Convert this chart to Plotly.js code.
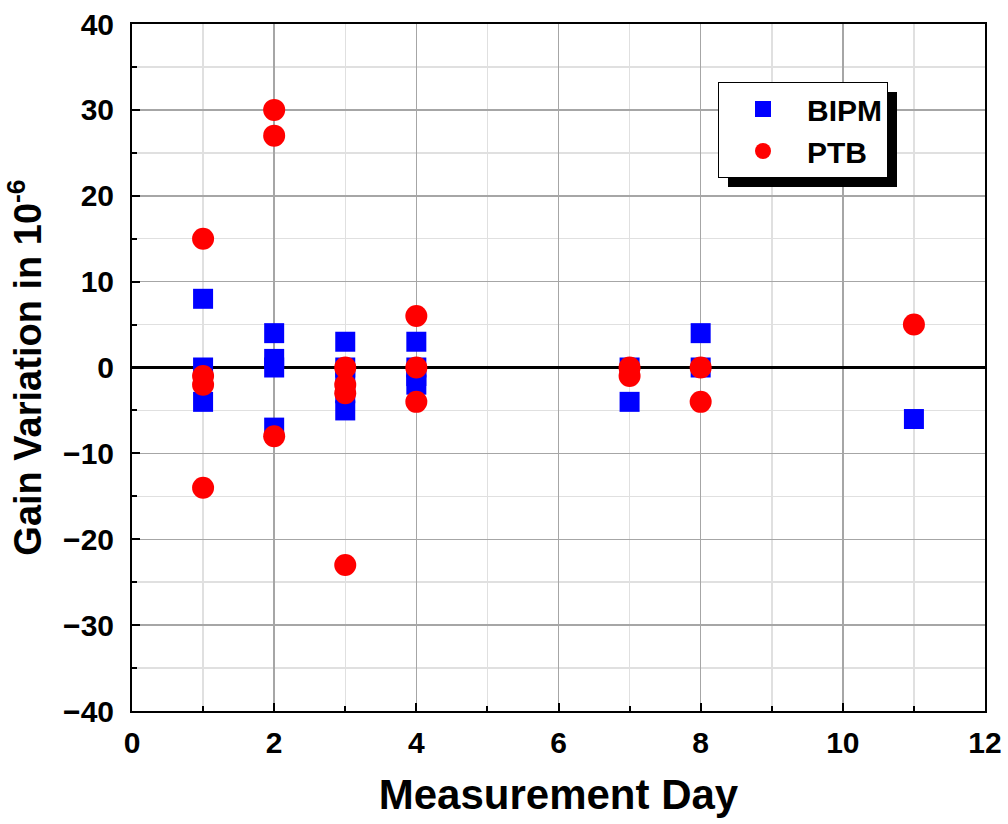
<!DOCTYPE html>
<html>
<head>
<meta charset="utf-8">
<script src="https://cdn.plot.ly/plotly-3.0.1.min.js"></script>
<style>html,body{margin:0;padding:0;background:#fff;}#chart{width:1008px;height:824px;}</style>
</head>
<body>
<div id="chart"></div>
<script>
// BIPM measurements
var bipmDay   = [1, 1, 1, 2, 2, 2, 2, 3, 3, 3, 3, 3, 4, 4, 4, 4, 7, 7, 8, 8, 11];
var bipmGain  = [8, 0, -4, 4, 1, 0, -7, 3, 0, -1, -3, -5, 3, 0, -1, -2, 0, -4, 4, 0, -6];
// PTB measurements
var ptbDay    = [1, 1, 1, 1, 2, 2, 2, 3, 3, 3, 3, 4, 4, 4, 7, 7, 8, 8, 11];
var ptbGain   = [15, -1, -2, -14, 30, 27, -8, 0, -2, -3, -23, 6, 0, -4, 0, -1, 0, -4, 5];

var xTickVals = [0, 2, 4, 6, 8, 10, 12];
var yTickVals = [-40, -30, -20, -10, 0, 10, 20, 30, 40];

var FONT = "'Liberation Sans', Arial, sans-serif";

var traces = [
  {x: bipmDay, y: bipmGain, name: 'BIPM', type: 'scatter', mode: 'markers',
   marker: {symbol: 'square', size: 20, color: '#0000ff'}},
  {x: ptbDay, y: ptbGain, name: 'PTB', type: 'scatter', mode: 'markers',
   marker: {symbol: 'circle', size: 22, color: '#ff0000'}}
];

var L = 132, R = 985, T = 24, B = 711;
var layout = {
  width: 1008, height: 824,
  margin: {l: L, r: 1008 - R, t: T, b: 824 - B},
  paper_bgcolor: '#fff', plot_bgcolor: '#fff',
  font: {family: FONT, color: '#000'},
  showlegend: true,
  legend: {
    x: (718 - L) / (R - L), y: (B - 82) / (B - T), xanchor: 'left', yanchor: 'top',
    bgcolor: '#fff', bordercolor: '#000', borderwidth: 1,
    font: {family: FONT, size: 30, color: '#000', weight: 'bold'},
    itemsizing: 'trace', itemwidth: 78
  },
  xaxis: {
    range: [0, 12], tickvals: xTickVals, ticktext: xTickVals.map(String),
    showline: true, linecolor: '#000', linewidth: 2, mirror: true,
    ticks: 'inside', ticklen: 8, tickwidth: 2, tickcolor: '#000',
    tickfont: {family: FONT, size: 30, weight: 'bold'},
    ticklabelstandoff: 4,
    showgrid: true, gridcolor: '#a6a6a6', gridwidth: 1.5,
    zeroline: false,
    minor: {dtick: 1, showgrid: true, gridcolor: '#e0e0e0', gridwidth: 1.5,
            ticks: 'inside', ticklen: 5, tickwidth: 2, tickcolor: '#000'},
    title: {text: 'Measurement Day', standoff: 22,
            font: {family: FONT, size: 42, weight: 'bold'}}
  },
  yaxis: {
    range: [-40, 40], tickvals: yTickVals,
    showline: true, linecolor: '#000', linewidth: 2, mirror: true,
    ticks: 'inside', ticklen: 8, tickwidth: 2, tickcolor: '#000',
    tickfont: {family: FONT, size: 30, weight: 'bold'},
    ticklabelstandoff: 10,
    showgrid: true, gridcolor: '#a6a6a6', gridwidth: 1.5,
    zeroline: true, zerolinecolor: '#000', zerolinewidth: 3,
    minor: {dtick: 5, showgrid: true, gridcolor: '#e0e0e0', gridwidth: 1.5,
            ticks: 'inside', ticklen: 5, tickwidth: 2, tickcolor: '#000'},
    title: {text: 'Gain Variation in 10<sup>-6</sup>', standoff: 10,
            font: {family: FONT, size: 38, weight: 'bold'}}
  },
  shapes: [
    {type: 'rect', xref: 'paper', yref: 'paper', layer: 'above',
     x0: (728 - L) / (R - L), x1: (897 - L) / (R - L),
     y0: (B - 187) / (B - T), y1: (B - 92) / (B - T),
     fillcolor: '#000', line: {width: 0}}
  ]
};

Plotly.newPlot('chart', traces, layout, {displayModeBar: false, staticPlot: true});
</script>
</body>
</html>
